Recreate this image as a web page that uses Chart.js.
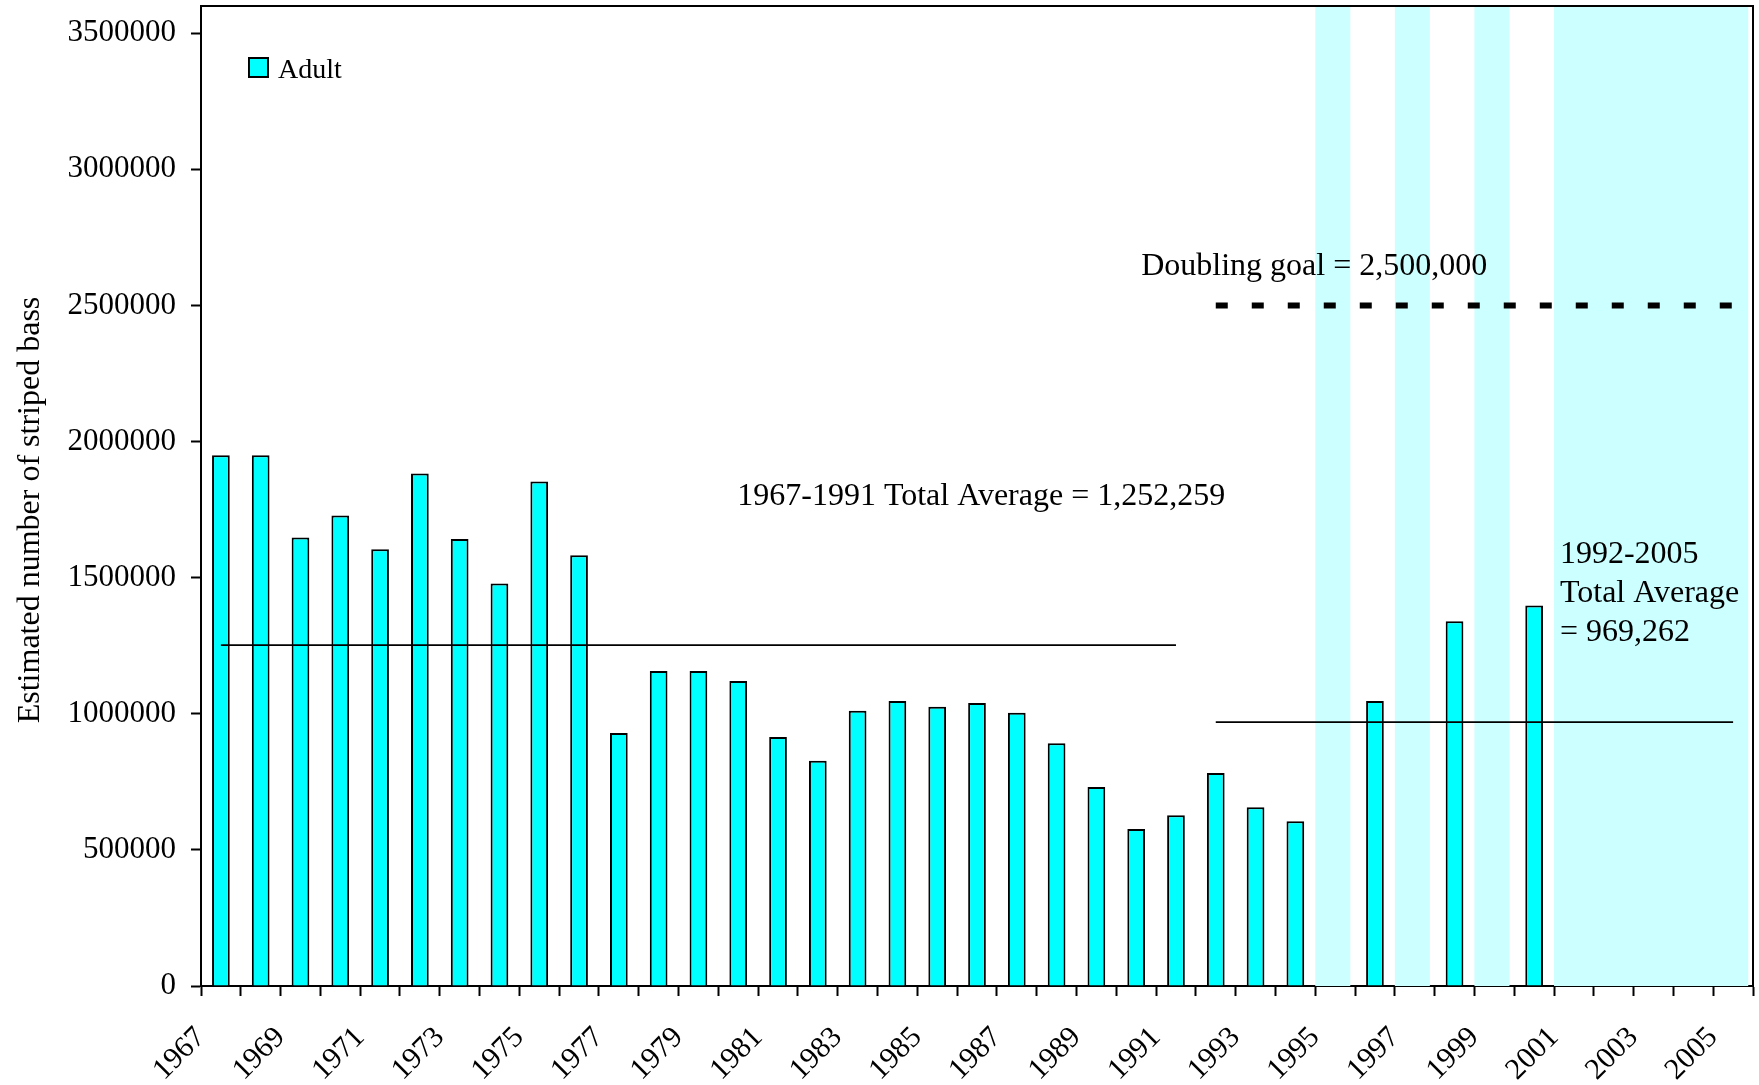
<!DOCTYPE html>
<html>
<head>
<meta charset="utf-8">
<script src="https://cdn.jsdelivr.net/npm/chart.js@4/dist/chart.umd.min.js"></script>
<style>
  html, body { margin: 0; padding: 0; background: #ffffff; }
  #wrap { width: 1759px; height: 1085px; }
</style>
</head>
<body>
<div id="wrap"><canvas id="chart" width="1759" height="1085"></canvas></div>
<script>
// Survey years shown on the category axis
const years = ['1967','1968','1969','1970','1971','1972','1973','1974','1975','1976',
               '1977','1978','1979','1980','1981','1982','1983','1984','1985','1986',
               '1987','1988','1989','1990','1991','1992','1993','1994','1995','1996',
               '1997','1998','1999','2000','2001','2002','2003','2004','2005'];

// Estimated adult striped bass abundance (null = no estimate that year)
const adult = [1950000, 1950000, 1648000, 1728000, 1604000, 1883000, 1642000, 1479000, 1853000, 1582000,
               929000, 1157000, 1157000, 1120000, 915000, 827000, 1011000, 1047000, 1026000, 1040000,
               1004000, 892000, 731000, 577000, 627000, 782000, 657000, 605000, null, 1047000,
               null, 1340000, null, 1398000, null, null, null, null, null];
const seriesName = 'Adult';

// Reference levels
const earlyAvgRange = ['1967', '1991'];
const earlyAvgValue = 1252259;
const lateAvgRange = ['1992', '2005'];
const lateAvgValue = 969262;
const goalRange = ['1992', '2005'];
const goalValue = 2500000;

// Years without an estimate, shaded as spans
const bandStarts = ['1995', '1997', '1999', '2001'];
const bandEnds   = ['1995', '1997', '1999', '2005'];

// Value axis
const yTicks = [0, 500000, 1000000, 1500000, 2000000, 2500000, 3000000, 3500000];
const yMax = 3600000;
const yTitle = 'Estimated number of striped bass';

// Annotation texts
const goalText = 'Doubling goal = 2,500,000';
const earlyAvgText = '1967-1991 Total Average = 1,252,259';
const lateAvgText = ['1992-2005', 'Total Average', '= 969,262'];

const FONT = "'Times New Roman', 'Liberation Serif', serif";

const idx = (y) => years.indexOf(y);

const bandsPlugin = {
  id: 'bands',
  beforeDatasetsDraw(chart) {
    const { ctx, chartArea, scales: { x } } = chart;
    const w = x.width / years.length;
    ctx.save();
    ctx.fillStyle = '#CCFFFF';
    bandStarts.forEach((s, i) => {
      const x0 = x.getPixelForValue(idx(s)) - 0.5 * w;
      const x1 = x.getPixelForValue(idx(bandEnds[i])) + 0.38 * w;
      ctx.fillRect(x0, chartArea.top + 1, x1 - x0, chartArea.bottom - chartArea.top - 1);
    });
    ctx.restore();
  }
};

const decorPlugin = {
  id: 'decor',
  afterDraw(chart) {
    const { ctx, chartArea, scales: { x, y } } = chart;
    ctx.save();
    // plot frame (top and right edges)
    ctx.strokeStyle = '#000';
    ctx.lineWidth = 2;
    ctx.beginPath();
    ctx.moveTo(chartArea.left, chartArea.top);
    ctx.lineTo(chartArea.right, chartArea.top);
    ctx.lineTo(chartArea.right, chartArea.bottom);
    ctx.stroke();

    ctx.fillStyle = '#000';
    ctx.textBaseline = 'alphabetic';
    ctx.textAlign = 'left';
    ctx.font = '32px ' + FONT;
    // goal label
    ctx.fillText(goalText, x.getPixelForValue(idx('1990')) + 5, y.getPixelForValue(goalValue) - 30);
    // early average label
    ctx.fillText(earlyAvgText, x.getPixelForValue(idx('1980')) - 1, y.getPixelForValue(earlyAvgValue) - 140);
    // late average label
    const lx = x.getPixelForValue(idx('2001')) - 14;
    const ly = y.getPixelForValue(lateAvgValue);
    lateAvgText.forEach((t, i) => ctx.fillText(t, lx, ly - 159 + i * 39));

    // legend
    const ds = chart.data.datasets[0];
    const bx = chartArea.left + 48, by = chartArea.top + 52;
    ctx.fillStyle = ds.backgroundColor;
    ctx.fillRect(bx, by, 19, 19);
    ctx.strokeStyle = '#000';
    ctx.lineWidth = 2;
    ctx.strokeRect(bx, by, 19, 19);
    ctx.fillStyle = '#000';
    ctx.font = '28px ' + FONT;
    ctx.fillText(ds.label, bx + 29, by + 20);

    // value axis title
    ctx.translate(31, (chartArea.top + chartArea.bottom) / 2 + 14);
    ctx.rotate(-Math.PI / 2);
    ctx.textAlign = 'center';
    ctx.textBaseline = 'middle';
    ctx.font = '32px ' + FONT;
    ctx.fillText(yTitle, 0, 0);
    ctx.restore();
  }
};

const levelLine = (range, value, width, dash) => ({
  type: 'line',
  label: '',
  data: [{ x: range[0], y: value }, { x: range[1], y: value }],
  borderColor: '#000',
  borderWidth: width,
  borderDash: dash,
  borderCapStyle: 'butt',
  pointRadius: 0,
  fill: false,
  order: 0
});

new Chart(document.getElementById('chart'), {
  type: 'bar',
  data: {
    labels: years,
    datasets: [
      {
        label: seriesName,
        data: adult,
        backgroundColor: '#00FFFF',
        borderColor: '#000',
        borderWidth: 2,
        categoryPercentage: 1,
        barPercentage: 0.445,
        order: 1
      },
      levelLine(earlyAvgRange, earlyAvgValue, 1.6, []),
      levelLine(lateAvgRange, lateAvgValue, 1.6, []),
      levelLine(goalRange, goalValue, 6, [12, 24])
    ]
  },
  options: {
    responsive: false,
    animation: false,
    layout: { padding: { top: 6, right: 6, left: 0, bottom: 0 } },
    plugins: { legend: { display: false }, tooltip: { enabled: false } },
    scales: {
      x: {
        offset: true,
        grid: { offset: true, drawOnChartArea: false, drawTicks: true, tickLength: 10, tickWidth: 2, tickColor: '#000' },
        border: { display: true, color: '#000', width: 2 },
        ticks: {
          autoSkip: false,
          minRotation: 45,
          maxRotation: 45,
          padding: 24,
          labelOffset: -20,
          color: '#000',
          font: { family: FONT, size: 30 },
          callback: (v, i) => (i % 2 === 0 ? years[i] : '')
        },
        afterFit: (s) => { s.height = 99; s.paddingLeft = 0; s.paddingRight = 0; }
      },
      y: {
        min: 0,
        max: yMax,
        afterBuildTicks: (s) => { s.ticks = yTicks.map(v => ({ value: v })); },
        grid: { drawOnChartArea: false, drawTicks: true, tickLength: 10, tickWidth: 2, tickColor: '#000' },
        border: { display: true, color: '#000', width: 2 },
        ticks: {
          padding: 15,
          color: '#000',
          font: { family: FONT, size: 31 },
          callback: (v) => String(v)
        },
        afterFit: (s) => { s.width = 201; s.paddingTop = 0; s.paddingBottom = 0; }
      }
    }
  },
  plugins: [bandsPlugin, decorPlugin]
});
</script>
</body>
</html>
